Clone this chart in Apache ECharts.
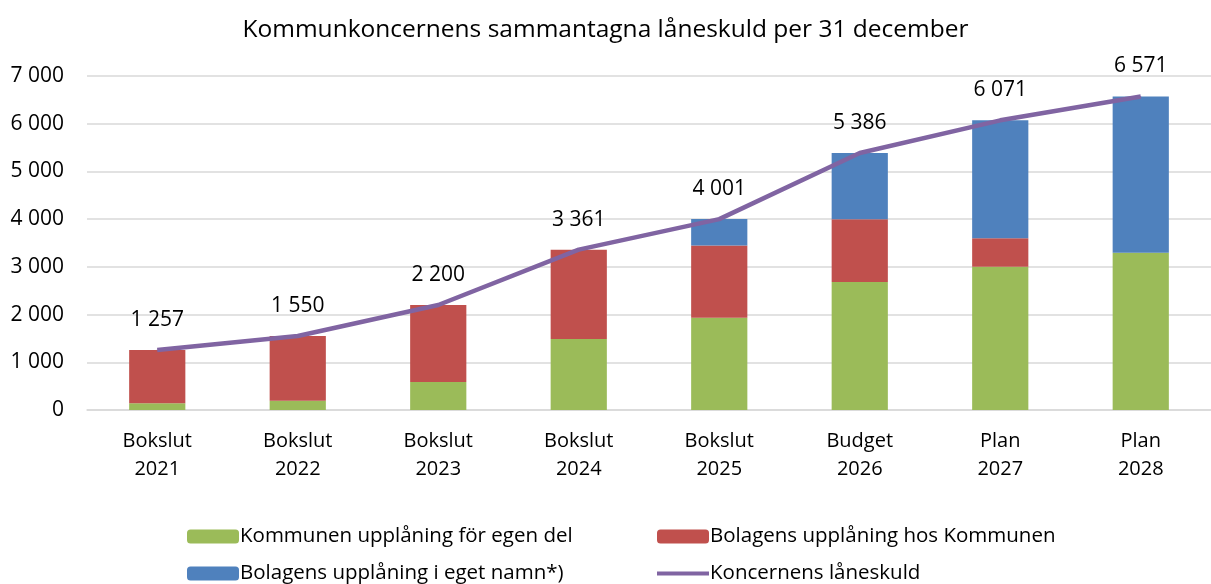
<!DOCTYPE html>
<html>
<head>
<meta charset="utf-8">
<script src="https://cdn.jsdelivr.net/npm/echarts@6/dist/echarts.min.js"></script>
<style>
  html, body { margin: 0; padding: 0; background: #fff; }
  #chart { width: 1211px; height: 584px; }
</style>
</head>
<body>
<div id="chart"></div>
<script>
var categories = ['Bokslut\n2021', 'Bokslut\n2022', 'Bokslut\n2023', 'Bokslut\n2024', 'Bokslut\n2025', 'Budget\n2026', 'Plan\n2027', 'Plan\n2028'];
var kommunenEgen = [140, 195, 585, 1490, 1935, 2685, 3000, 3295];
var bolagHosKommun = [1117, 1355, 1615, 1871, 1515, 1315, 600, 0];
var bolagEgetNamn = [0, 0, 0, 0, 551, 1386, 2471, 3276];
var koncernSkuld = [1257, 1550, 2200, 3361, 4001, 5386, 6071, 6571];

var FONT = 'Open Sans';

function fmt(v) {
  return String(Math.round(v)).replace(/\B(?=(\d{3})+(?!\d))/g, ' ');
}

// en legend per post så att kolumnerna linjerar
function legendItem(name, left, top, icon) {
  return {
    left: left,
    top: top,
    itemWidth: 52,
    itemHeight: 14,
    padding: 0,
    data: [icon ? { name: name, icon: icon } : name],
    textStyle: { fontFamily: FONT, fontSize: 20.5, color: '#000', padding: [0, 0, 0, -4] }
  };
}

var chart = echarts.init(document.getElementById('chart'));

var option = {
  animation: false,
  textStyle: { fontFamily: FONT },
  title: {
    text: 'Kommunkoncernens sammantagna låneskuld per 31 december',
    left: 'center',
    top: 13,
    textStyle: { fontFamily: FONT, fontSize: 24.5, fontWeight: 'normal', color: '#000' }
  },
  grid: { left: 87, right: -3, top: 76, bottom: 174, containLabel: false },
  legend: [
    legendItem('Kommunen upplåning för egen del', 187, 526),
    legendItem('Bolagens upplåning i eget namn*)', 187, 563),
    legendItem('Bolagens upplåning hos Kommunen', 657, 526),
    legendItem('Koncernens låneskuld', 657, 563, 'path://M0,5 L52,5 L52,9 L0,9 Z')
  ],
  xAxis: {
    type: 'category',
    data: categories,
    axisTick: { show: false },
    axisLine: { lineStyle: { color: '#d9d9d9', width: 1.5 } },
    axisLabel: { color: '#000', fontSize: 20, lineHeight: 28, margin: 17, fontFamily: FONT }
  },
  yAxis: {
    type: 'value',
    min: 0,
    max: 7000,
    interval: 1000,
    axisLine: { show: false },
    axisTick: { show: false },
    splitLine: { lineStyle: { color: '#d9d9d9', width: 1.5 } },
    axisLabel: { color: '#000', fontSize: 21, margin: 23, fontFamily: FONT, formatter: fmt }
  },
  series: [
    {
      name: 'Kommunen upplåning för egen del',
      type: 'bar',
      stack: 'skuld',
      barWidth: '40%',
      itemStyle: { color: '#9BBB59' },
      data: kommunenEgen
    },
    {
      name: 'Bolagens upplåning hos Kommunen',
      type: 'bar',
      stack: 'skuld',
      itemStyle: { color: '#C0504D' },
      data: bolagHosKommun
    },
    {
      name: 'Bolagens upplåning i eget namn*)',
      type: 'bar',
      stack: 'skuld',
      itemStyle: { color: '#4F81BD' },
      data: bolagEgetNamn
    },
    {
      name: 'Koncernens låneskuld',
      type: 'line',
      symbol: 'circle',
      symbolSize: 1,
      showSymbol: true,
      lineStyle: { color: '#8064A2', width: 4.5 },
      itemStyle: { color: '#8064A2' },
      label: {
        show: true,
        position: 'top',
        distance: 19,
        color: '#000',
        fontSize: 21,
        fontFamily: FONT,
        formatter: function (p) { return fmt(p.value); }
      },
      z: 5,
      data: koncernSkuld
    }
  ]
};

chart.setOption(option);
</script>
</body>
</html>
